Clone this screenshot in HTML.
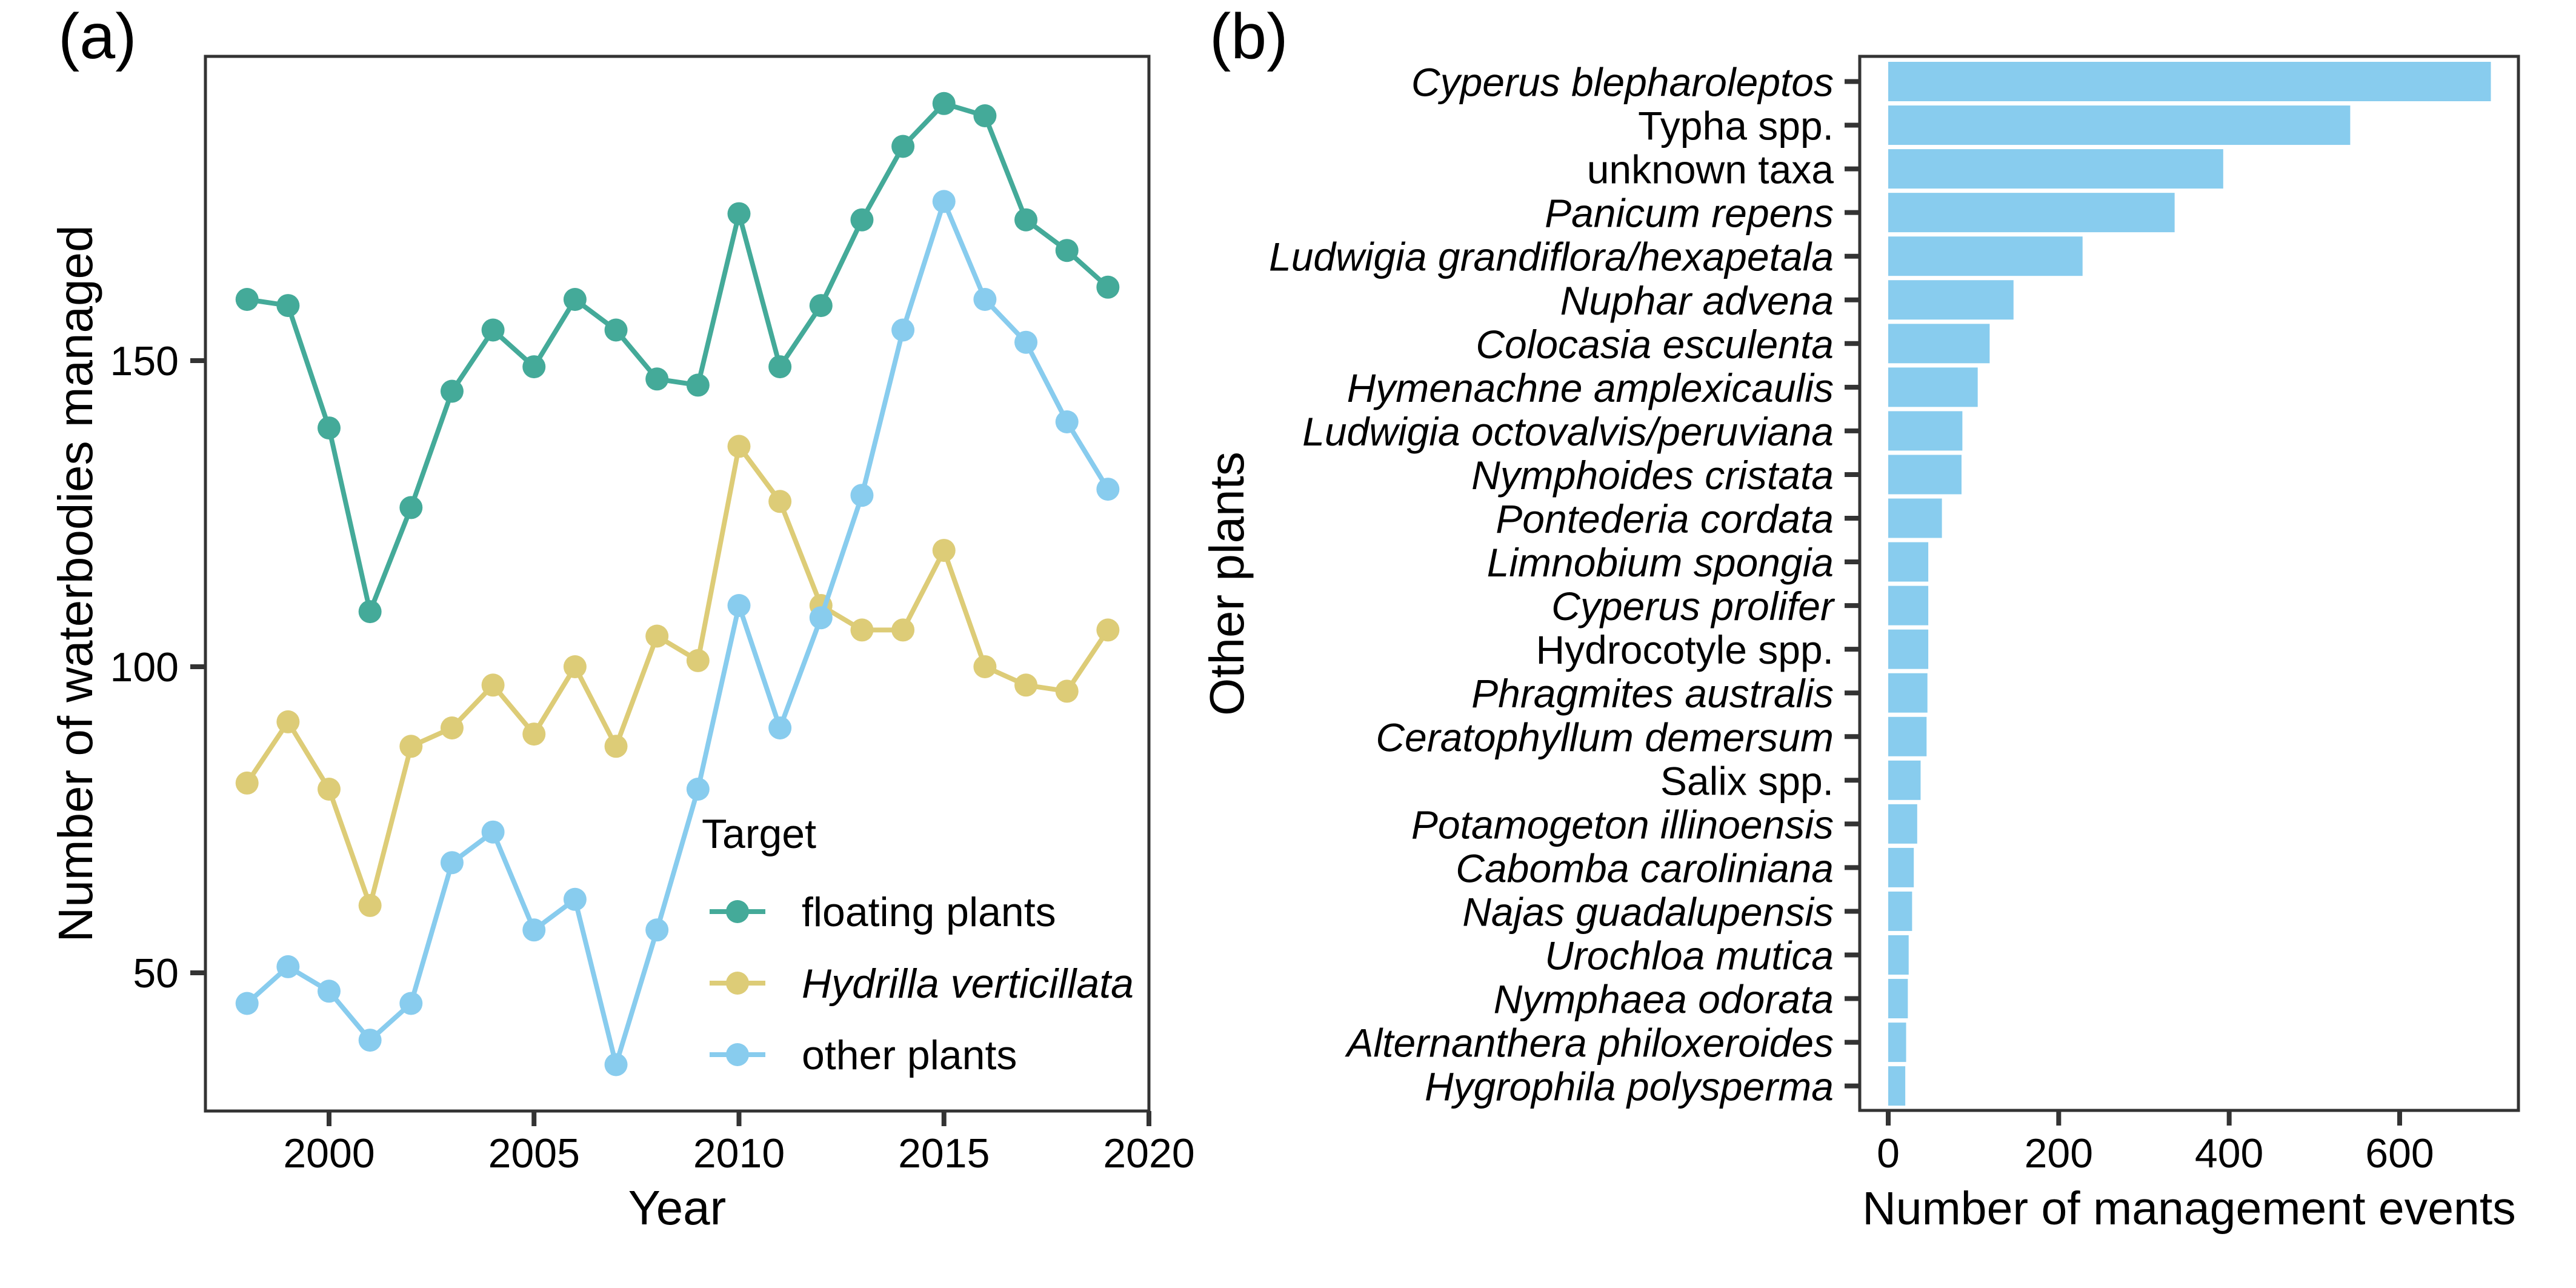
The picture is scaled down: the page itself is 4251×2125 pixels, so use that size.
<!DOCTYPE html>
<html><head><meta charset="utf-8"><style>
html,body{margin:0;padding:0;background:#fff;}
svg{display:block;font-family:"Liberation Sans",Arial,sans-serif;}
</style></head><body>
<svg id="chart" width="4251" height="2125" viewBox="0 0 4251 2125" xmlns="http://www.w3.org/2000/svg">
<g id="pa"></g>
<g id="pb"></g>
</svg>
<script>
const years = [1998,1999,2000,2001,2002,2003,2004,2005,2006,2007,2008,2009,2010,2011,2012,2013,2014,2015,2016,2017,2018,2019];
const floating = [160,159,139,109,126,145,155,149,160,155,147,146,174,149,159,173,185,192,190,173,168,162];
const hydrilla = [81,91,80,61,87,90,97,89,100,87,105,101,136,127,110,106,106,119,100,97,96,106];
const other = [45,51,47,39,45,68,73,57,62,35,57,80,110,90,108,128,155,176,160,153,140,129];
const xTicksA = [2000,2005,2010,2015,2020];
const yTicksA = [50,100,150];
const species = ["Cyperus blepharoleptos","Typha spp.","unknown taxa","Panicum repens","Ludwigia grandiflora/hexapetala","Nuphar advena","Colocasia esculenta","Hymenachne amplexicaulis","Ludwigia octovalvis/peruviana","Nymphoides cristata","Pontederia cordata","Limnobium spongia","Cyperus prolifer","Hydrocotyle spp.","Phragmites australis","Ceratophyllum demersum","Salix spp.","Potamogeton illinoensis","Cabomba caroliniana","Najas guadalupensis","Urochloa mutica","Nymphaea odorata","Alternanthera philoxeroides","Hygrophila polysperma"];
const events = [707,542,393,336,228,147,119,105,87,86,63,47,47,47,46,45,38,34,30,28,24,23,21,20];
const italicSp = [true,false,false,true,true,true,true,true,true,true,true,true,true,false,true,true,false,true,true,true,true,true,true,true];
const xTicksB = [0,200,400,600];

const NS="http://www.w3.org/2000/svg";
function mk(parent,tag,attrs,text){const e=document.createElementNS(NS,tag);for(const k in attrs)e.setAttribute(k,attrs[k]);if(text!==undefined)e.textContent=text;parent.appendChild(e);return e;}
const AX="#333333";

// Panel A
const pa=document.getElementById('pa');
const A={l:339,r:1896,t:93,b:1833};
const xA=y=>543+(y-2000)*(1896-543)/20;
const yA=v=>1605-(v-50)*10.1;
let e;
e=mk(pa,'text',{x:96,y:96,'font-size':106},'(a)');

const series=[{n:'floating-plants',d:floating,c:'#44AA99'},{n:'hydrilla-verticillata',d:hydrilla,c:'#DDCC77'},{n:'other-plants',d:other,c:'#88CCEE'}];
series.forEach(s=>{
  const g=mk(pa,'g',{});
  
  const pts=s.d.map((v,i)=>xA(years[i])+','+yA(v)).join(' ');
  const pl=mk(g,'polyline',{points:pts,fill:'none',stroke:s.c,'stroke-width':8,'stroke-linejoin':'round'});
  
  s.d.forEach((v,i)=>{const c=mk(g,'circle',{cx:xA(years[i]),cy:yA(v),r:19,fill:s.c});
    });
});
e=mk(pa,'rect',{x:A.l,y:A.t,width:A.r-A.l,height:A.b-A.t,fill:'none',stroke:AX,'stroke-width':5});

xTicksA.forEach(t=>{
  e=mk(pa,'line',{x1:xA(t),x2:xA(t),y1:A.b,y2:A.b+25,stroke:AX,'stroke-width':8});
  
  e=mk(pa,'text',{x:xA(t),y:1926,'font-size':68,'text-anchor':'middle'},t);
  
});
yTicksA.forEach(t=>{
  e=mk(pa,'line',{x1:A.l-25,x2:A.l,y1:yA(t),y2:yA(t),stroke:AX,'stroke-width':8});
  
  e=mk(pa,'text',{x:295,y:yA(t)+24,'font-size':68,'text-anchor':'end'},t);
  
});
e=mk(pa,'text',{x:(A.l+A.r)/2,y:2020,'font-size':80,'text-anchor':'middle'},'Year');

e=mk(pa,'text',{x:0,y:0,'font-size':80,'text-anchor':'middle',transform:'translate(152,963) rotate(-90)'},'Number of waterbodies managed');

// legend
const lg=mk(pa,'g',{});

e=mk(lg,'text',{x:1158,y:1399,'font-size':68},'Target');

const legLabels=['floating plants','Hydrilla verticillata','other plants'];
const legY=[1504,1622,1740];
series.forEach((s,i)=>{
  const g=mk(lg,'g',{});
  
  mk(g,'line',{x1:1171,x2:1263,y1:legY[i],y2:legY[i],stroke:s.c,'stroke-width':8});
  mk(g,'circle',{cx:1217,cy:legY[i],r:19,fill:s.c});
  mk(g,'text',{x:1323,y:legY[i]+24,'font-size':68,'font-style':i===1?'italic':'normal'},legLabels[i]);
});

// Panel B
const pb=document.getElementById('pb');
const B={l:3069,r:4156,t:93,b:1832};
const xB=v=>3116+v*(3960-3116)/600;
const yB=i=>134.5+i*72.05;
e=mk(pb,'text',{x:1996,y:96,'font-size':106},'(b)');

events.forEach((v,i)=>{
  e=mk(pb,'rect',{x:xB(0),y:yB(i)-32.5,width:xB(v)-xB(0),height:65,fill:'#88CCEE'});
  
  e=mk(pb,'line',{x1:B.l-25,x2:B.l,y1:yB(i),y2:yB(i),stroke:AX,'stroke-width':8});
  
  e=mk(pb,'text',{x:3026,y:yB(i)+24,'font-size':66,'text-anchor':'end','font-style':italicSp[i]?'italic':'normal'},species[i]);
  
});
e=mk(pb,'rect',{x:B.l,y:B.t,width:B.r-B.l,height:B.b-B.t,fill:'none',stroke:AX,'stroke-width':5});

xTicksB.forEach(t=>{
  e=mk(pb,'line',{x1:xB(t),x2:xB(t),y1:B.b,y2:B.b+25,stroke:AX,'stroke-width':8});
  
  e=mk(pb,'text',{x:xB(t),y:1926,'font-size':68,'text-anchor':'middle'},t);
  
});
e=mk(pb,'text',{x:(B.l+B.r)/2,y:2020,'font-size':77,'text-anchor':'middle'},'Number of management events');

e=mk(pb,'text',{x:0,y:0,'font-size':80,'text-anchor':'middle',transform:'translate(2052,963) rotate(-90)'},'Other plants');

</script>
</body></html>
